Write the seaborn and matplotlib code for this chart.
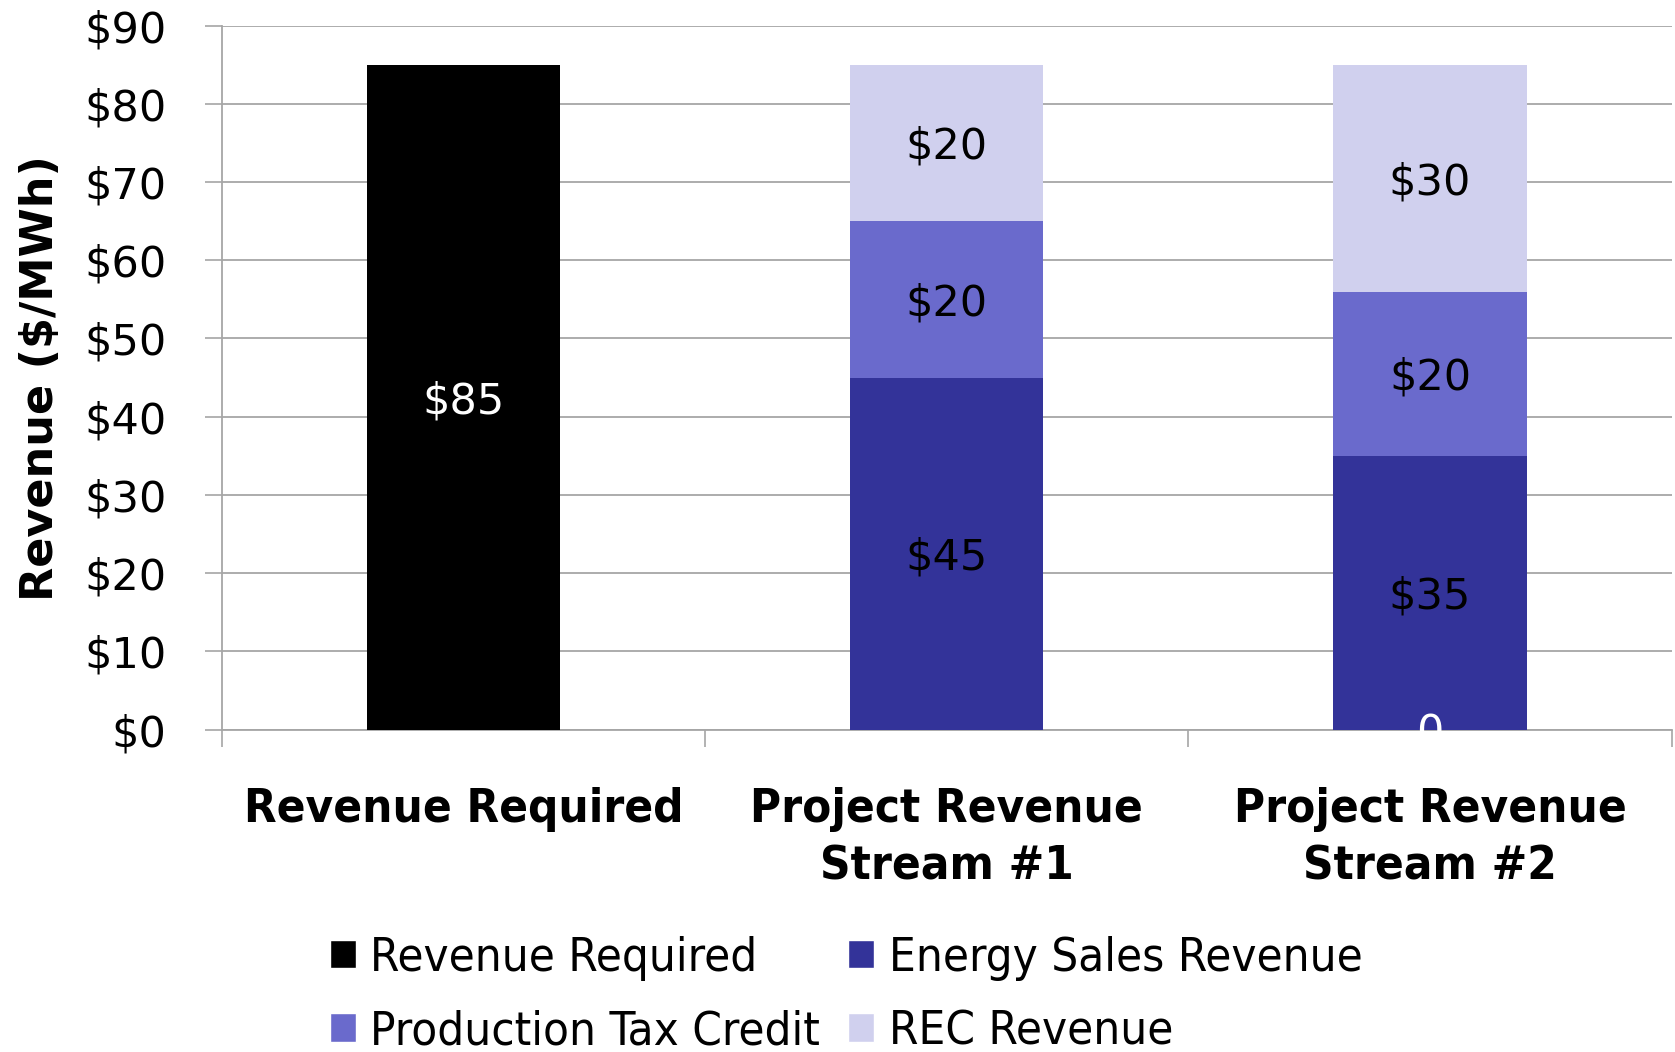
import matplotlib
matplotlib.use("Agg")
import matplotlib.pyplot as plt
import matplotlib.transforms as mtransforms
import seaborn as sns
import pandas as pd
import numpy as np
from matplotlib.patches import Patch

# ---------------- data ----------------
categories = ["Revenue Required", "Project Revenue\nStream #1", "Project Revenue\nStream #2"]
revenue_required = [85, 0, 0]
energy_sales = [0, 45, 35]
production_tax_credit = [0, 20, 21]
rec_revenue = [0, 20, 29]
labels_rr = ["$85", "", "0"]
labels_energy = ["", "$45", "$35"]
labels_ptc = ["", "$20", "$20"]
labels_rec = ["", "$20", "$30"]
series_names = ["Revenue Required", "Energy Sales Revenue", "Production Tax Credit", "REC Revenue"]
ytick_values = [0, 10, 20, 30, 40, 50, 60, 70, 80, 90]
ytick_labels = ["$0", "$10", "$20", "$30", "$40", "$50", "$60", "$70", "$80", "$90"]

# ---------------- style ----------------
C_RR = "#000000"
C_EN = "#333399"
C_PTC = "#6A6ACC"
C_REC = "#D0D0EE"
GRID = "#A6A6A6"

sns.set_style("white")
plt.rcParams["font.family"] = ["DejaVu Sans"]
plt.rcParams["text.color"] = "black"
plt.rcParams["axes.labelcolor"] = "black"
plt.rcParams["xtick.color"] = "black"
plt.rcParams["ytick.color"] = "black"

fig = plt.figure(figsize=(16.75, 10.52), dpi=100)
ax = fig.add_axes([0.1325, 0.3065, 0.8655, 0.6692])

df = pd.DataFrame({
    "cat": categories,
    "rr": revenue_required,
    "en": energy_sales,
    "ptc": production_tax_credit,
    "rec": rec_revenue,
})
df["c_en"] = df["en"]
df["c_ptc"] = df["en"] + df["ptc"]
df["c_rec"] = df["en"] + df["ptc"] + df["rec"]

for col, color in [("c_rec", C_REC), ("c_ptc", C_PTC), ("c_en", C_EN), ("rr", C_RR)]:
    sns.barplot(data=df, x="cat", y=col, order=categories, color=color,
                saturation=1, width=0.4, linewidth=0, ax=ax, zorder=3)

# data labels
lab_fs = 31
shift = mtransforms.ScaledTranslation(0, -4 / 100, fig.dpi_scale_trans)
for i in range(len(categories)):
    segs = [
        (0, revenue_required[i], labels_rr[i], "white"),
        (0, energy_sales[i], labels_energy[i], "black"),
        (energy_sales[i], production_tax_credit[i], labels_ptc[i], "black"),
        (energy_sales[i] + production_tax_credit[i], rec_revenue[i], labels_rec[i], "black"),
    ]
    for bottom, val, txt, col in segs:
        if txt:
            ax.text(i, bottom + val / 2, txt, ha="center", va="center",
                    fontsize=lab_fs, color=col, zorder=5, clip_on=False,
                    transform=ax.transData + shift)

# axes
ax.set_xlim(-0.5, 2.5)
ax.set_ylim(0, 90)
ax.set_yticks(ytick_values)
ax.set_yticklabels(ytick_labels, fontsize=31)
ax.tick_params(axis="y", length=12, width=1.2, color=GRID, labelcolor="black", pad=28, left=True)
ax.yaxis.grid(True, color=GRID, linewidth=1.3, zorder=0)
ax.set_axisbelow(True)

ax.set_xticks(range(len(categories)))
ax.set_xticklabels(categories, fontsize=34, fontweight="bold", fontstretch="condensed",
                   linespacing=1.38, color="black")
ax.tick_params(axis="x", length=0, pad=41)
ax.set_xticks([-0.5, 0.5, 1.5, 2.5], minor=True)
ax.tick_params(axis="x", which="minor", length=12, width=1.2, color=GRID, bottom=True)
ax.set_xlabel("")

ax.set_ylabel("Revenue ($/MWh)", fontsize=32, fontweight="heavy", labelpad=16, color="black")

for s in ["top", "right"]:
    ax.spines[s].set_visible(False)
for s in ["left", "bottom"]:
    ax.spines[s].set_color(GRID)
    ax.spines[s].set_linewidth(1.3)

# legend
handles = [Patch(facecolor=C_RR), Patch(facecolor=C_PTC), Patch(facecolor=C_EN), Patch(facecolor=C_REC)]
names = [series_names[0], series_names[2], series_names[1], series_names[3]]
leg = fig.legend(handles, names, loc="upper left",
                 ncol=2, frameon=False,
                 prop={"size": 34, "stretch": "condensed"},
                 handlelength=0.55, handleheight=0.55, handletextpad=0.3,
                 columnspacing=0.6, labelspacing=0.6, borderpad=0)
leg.set_bbox_to_anchor((0.183, 0.133), transform=fig.transFigure)
for t in leg.get_texts():
    t.set_color("black")

fig.savefig("out.png", dpi=100)
